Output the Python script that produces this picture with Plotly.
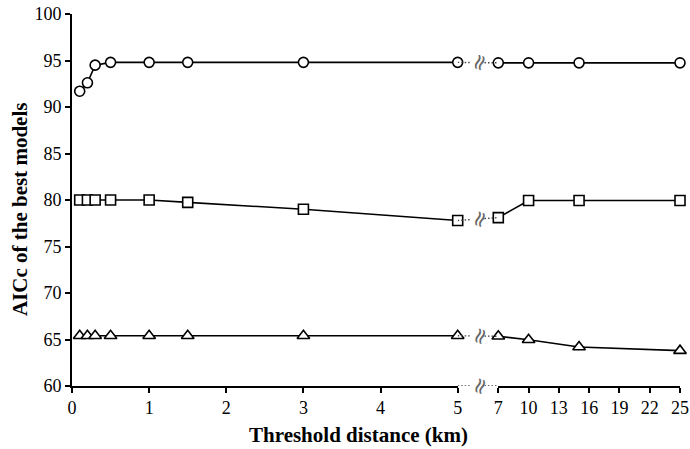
import plotly.graph_objects as go

x_left = [0.1, 0.2, 0.3, 0.5, 1, 1.5, 3, 5]
x_right = [7, 10, 15, 25]
circle_left = [91.7, 92.6, 94.5, 94.8, 94.8, 94.8, 94.8, 94.8]
circle_right = [94.75, 94.75, 94.75, 94.75]
square_left = [80.0, 80.0, 80.0, 80.0, 80.0, 79.75, 79.0, 77.8]
square_right = [78.1, 79.95, 79.95, 79.95]
tri_left = [65.4, 65.4, 65.4, 65.4, 65.4, 65.4, 65.4, 65.4]
tri_right = [65.35, 64.97, 64.2, 63.8]
left_ticks = [0, 1, 2, 3, 4, 5]
right_ticks = [7, 10, 13, 16, 19, 22, 25]
y_ticks = [60, 65, 70, 75, 80, 85, 90, 95, 100]

W, H = 690, 449
ml, mr, mt, mb = 72, 10, 14, 63
pw = W - ml - mr
d1 = (457.7 - ml) / pw
d2 = (498.3 - ml) / pw
SERIF = "Liberation Serif, Times New Roman, serif"

series = [
    (circle_left, circle_right, "circle"),
    (square_left, square_right, "square"),
    (tri_left, tri_right, "triangle-up"),
]
msize = {"circle": 10, "square": 10, "triangle-up": 11}
DOT = dict(color="#444", width=1.4, dash="1.5px,2px")

xa, xb = x_left[-1], x_right[0]
mid = (xa + xb) / 2
gap = 0.32 * (xb - xa) / 2


def broken(ya, yb):
    f = lambda x: ya + (yb - ya) * (x - xa) / (xb - xa)
    return [xa, mid - gap, None, mid + gap, xb], [ya, f(mid - gap), None, f(mid + gap), yb]


fig = go.Figure()
for yl, yr, sym in series:
    bx, by = broken(yl[-1], yr[0])
    fig.add_trace(go.Scatter(x=bx, y=by, mode="lines", xaxis="x3", yaxis="y", line=DOT,
                             cliponaxis=False, showlegend=False))
    mk = dict(symbol=sym, size=msize[sym], color="white",
              line=dict(color="black", width=1.6))
    fig.add_trace(go.Scatter(x=x_left, y=yl, mode="lines+markers", xaxis="x", yaxis="y",
                             line=dict(color="black", width=1.6), marker=mk,
                             cliponaxis=False, showlegend=False))
    fig.add_trace(go.Scatter(x=x_right, y=yr, mode="lines+markers", xaxis="x2", yaxis="y",
                             line=dict(color="black", width=1.6), marker=mk,
                             cliponaxis=False, showlegend=False))
bx, by = broken(y_ticks[0], y_ticks[0])
fig.add_trace(go.Scatter(x=bx, y=by, mode="lines", xaxis="x3", yaxis="y", line=DOT,
                         cliponaxis=False, showlegend=False))

annotations = []
for yv in [(circle_left[-1] + circle_right[0]) / 2, (square_left[-1] + square_right[0]) / 2,
           (tri_left[-1] + tri_right[0]) / 2, y_ticks[0]]:
    annotations.append(dict(x=mid, y=yv, xref="x3", yref="y", text="≈", showarrow=False,
                            textangle=-70, xshift=1,
                            font=dict(family="DejaVu Sans", size=22, color="#666")))

annotations.append(dict(x=0, y=0.473, xref="paper", yref="paper", xshift=-52,
                        text="<b>AICc of the best models</b>", textangle=-90, showarrow=False,
                        xanchor="center", yanchor="middle",
                        font=dict(family=SERIF, size=21, color="black")))
annotations.append(dict(x=0.472, y=0, xref="paper", yref="paper", yshift=-35,
                        text="<b>Threshold distance (km)</b>", showarrow=False,
                        xanchor="center", yanchor="top",
                        font=dict(family=SERIF, size=21, color="black")))

axis_common = dict(showline=True, linecolor="black", linewidth=1.6, ticks="outside",
                   ticklen=5, tickwidth=1.6, tickcolor="black", showgrid=False, zeroline=False,
                   automargin=False,
                   tickfont=dict(family=SERIF, size=18, color="black"))

fig.update_layout(
    width=W, height=H,
    margin=dict(l=ml, r=mr, t=mt, b=mb, autoexpand=False),
    font=dict(family=SERIF, color="black"),
    paper_bgcolor="white", plot_bgcolor="white",
    xaxis=dict(domain=[0, d1], range=[0, 5], tickvals=left_ticks, anchor="y", **axis_common),
    xaxis2=dict(domain=[d2, 1], range=[7, 25], tickvals=right_ticks, anchor="y", **axis_common),
    xaxis3=dict(domain=[d1, d2], range=[5, 7], visible=False, anchor="y"),
    yaxis=dict(range=[60, 100], tickvals=y_ticks, anchor="x", **axis_common),
    annotations=annotations,
)

fig.write_html("out.html", config={"displayModeBar": False},
               post_script="document.body.style.margin='0';document.body.style.overflow='hidden';")
